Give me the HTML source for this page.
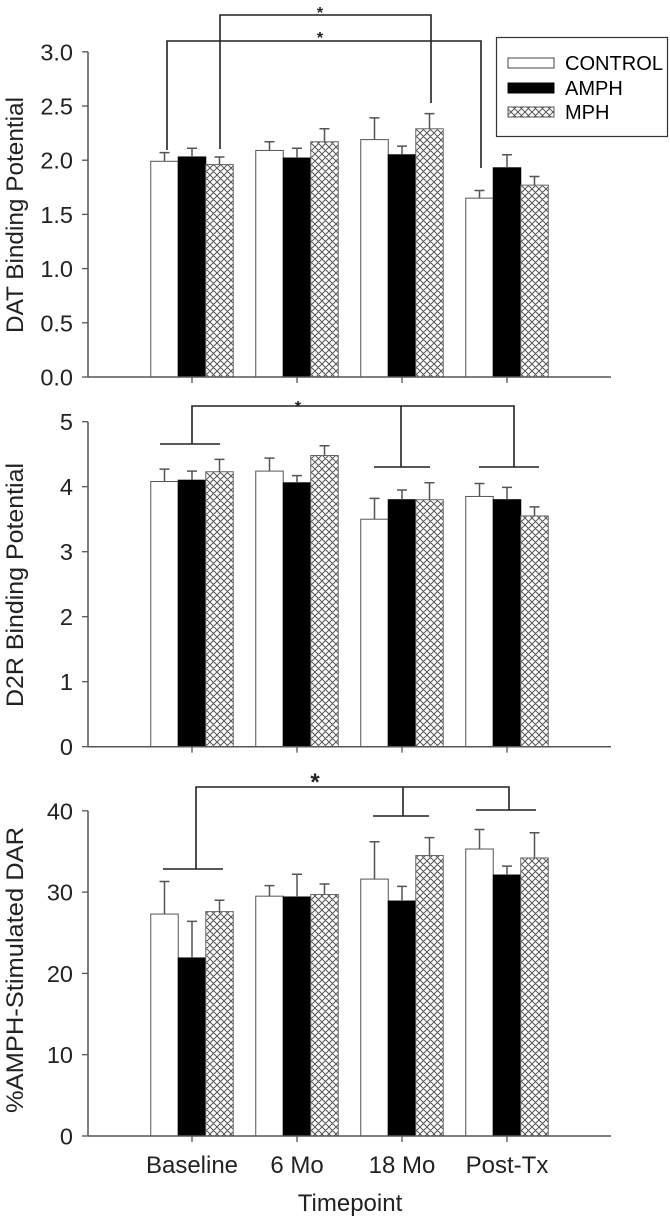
<!DOCTYPE html>
<html><head><meta charset="utf-8"><style>
html,body{margin:0;padding:0;background:#fff;}
svg{display:block;font-family:"Liberation Sans",Arial,sans-serif;}
</style></head><body>
<svg id="chart" width="670" height="1217" viewBox="0 0 670 1217">
<defs>
<pattern id="hatch" width="7" height="7" patternUnits="userSpaceOnUse">
<rect width="7" height="7" fill="#fff"/>
<path d="M0,0 L7,7 M7,0 L0,7 M-1,6 L1,8 M6,-1 L8,1 M-1,1 L1,-1 M6,8 L8,6" stroke="#555" stroke-width="1"/>
</pattern>
</defs>
<g id="legend">
<rect x="496.5" y="37.5" width="171" height="99" fill="#fff" stroke="#333" stroke-width="1.2"/>
<rect x="508" y="58" width="46" height="10" fill="#fff" stroke="#444"/>
<text x="565" y="70" font-size="20" textLength="98" lengthAdjust="spacingAndGlyphs">CONTROL</text>
<rect x="508" y="83" width="46" height="10" fill="#000" stroke="#000"/>
<text x="565" y="95" font-size="20">AMPH</text>
<rect x="508" y="107" width="46" height="10" fill="url(#hatch)" stroke="#555"/>
<text x="565" y="119" font-size="20">MPH</text>
</g>
</svg>
<script>
const categories = ["Baseline", "6 Mo", "18 Mo", "Post-Tx"];
const seriesNames = ["CONTROL", "AMPH", "MPH"];
// DAT panel
const datControl = [1.99, 2.09, 2.19, 1.65];
const datAmph = [2.03, 2.02, 2.05, 1.93];
const datMph = [1.96, 2.17, 2.29, 1.77];
const datControlErr = [0.08, 0.08, 0.20, 0.07];
const datAmphErr = [0.08, 0.09, 0.08, 0.12];
const datMphErr = [0.07, 0.12, 0.14, 0.08];
const datTicks = ["0.0", "0.5", "1.0", "1.5", "2.0", "2.5", "3.0"];
// D2R panel
const d2rControl = [4.08, 4.24, 3.50, 3.85];
const d2rAmph = [4.10, 4.06, 3.80, 3.80];
const d2rMph = [4.23, 4.48, 3.80, 3.55];
const d2rControlErr = [0.19, 0.20, 0.32, 0.20];
const d2rAmphErr = [0.14, 0.11, 0.15, 0.19];
const d2rMphErr = [0.19, 0.15, 0.26, 0.14];
const d2rTicks = ["0", "1", "2", "3", "4", "5"];
// DAR panel
const darControl = [27.3, 29.5, 31.6, 35.3];
const darAmph = [21.9, 29.4, 28.9, 32.1];
const darMph = [27.6, 29.7, 34.5, 34.2];
const darControlErr = [4.0, 1.3, 4.6, 2.4];
const darAmphErr = [4.5, 2.8, 1.8, 1.1];
const darMphErr = [1.4, 1.3, 2.2, 3.1];
const darTicks = ["0", "10", "20", "30", "40"];

const NS = "http://www.w3.org/2000/svg";
const svg = document.getElementById("chart");
function mk(tag, attrs, parent) {
  const e = document.createElementNS(NS, tag);
  for (const k in attrs) e.setAttribute(k, attrs[k]);
  (parent || svg).appendChild(e);
  return e;
}
const AX = 88, AXEND = 611;
function xCenter(i) { return 192 + i * 105; }
const barW = 27.5;
const fills = ["#fff", "#000", "url(#hatch)"];
const strokes = ["#555", "#000", "#666"];

function panel(key, y0, pxPerUnit, maxV, tickLabels, tickStep, series, errs, title, titleCenter, titleLen) {
  const g = mk("g", {});
  
  
  const yS = v => y0 - v * pxPerUnit;
  series.forEach((vals, s) => {
    vals.forEach((v, i) => {
      const x = xCenter(i) - 41.25 + s * barW;
      const r = mk("rect", { x: x, y: yS(v), width: barW, height: y0 - yS(v), fill: fills[s], stroke: strokes[s], "stroke-width": 1 }, g);
      
      
      const top = yS(v + errs[s][i]);
      const cx = x + barW / 2;
      const eb = mk("path", { d: `M${cx},${yS(v)} L${cx},${top} M${cx - 5},${top} L${cx + 5},${top}`, stroke: "#555", "stroke-width": 1.5, fill: "none" }, g);
      
      
    });
  });
  const ya = mk("line", { x1: AX, y1: yS(maxV), x2: AX, y2: y0, stroke: "#555", "stroke-width": 1.5 }, g);
  
  
  const xa = mk("line", { x1: AX, y1: y0, x2: AXEND, y2: y0, stroke: "#555", "stroke-width": 1.5 }, g);
  
  
  tickLabels.forEach((t, k) => {
    const y = yS(k * tickStep);
    mk("line", { x1: AX - 6, y1: y, x2: AX, y2: y, stroke: "#555", "stroke-width": 1.3 }, g);
    const tx = mk("text", { x: 73, y: y + 8.5, "font-size": 23.5, "text-anchor": "end", fill: "#222" }, g);
    tx.textContent = t;
    
    
  });
  categories.forEach((c, i) => {
    mk("line", { x1: xCenter(i), y1: y0, x2: xCenter(i), y2: y0 + 6, stroke: "#555", "stroke-width": 1.3 }, g);
  });
  const tt = mk("text", { x: 0, y: 0, "font-size": 24, "text-anchor": "middle", fill: "#222", textLength: titleLen, lengthAdjust: "spacingAndGlyphs", transform: `translate(23,${titleCenter}) rotate(-90)` }, g);
  tt.textContent = title;
  
  
}

panel("dat", 377, 108.4, 3.0, datTicks, 0.5, [datControl, datAmph, datMph], [datControlErr, datAmphErr, datMphErr], "DAT Binding Potential", 215, 236);
panel("d2r", 746.7, 65, 5, d2rTicks, 1, [d2rControl, d2rAmph, d2rMph], [d2rControlErr, d2rAmphErr, d2rMphErr], "D2R Binding Potential", 585, 244);
panel("dar", 1136, 8.13, 40, darTicks, 10, [darControl, darAmph, darMph], [darControlErr, darAmphErr, darMphErr], "%AMPH-Stimulated DAR", 970, 286);

function br(d, name) {
  const p = mk("path", { d: d, stroke: "#222", "stroke-width": 1.6, fill: "none" });
  
  
}
function star(x, y, size, name) {
  const t = mk("text", { x: x, y: y, "font-size": size, "text-anchor": "middle", fill: "#222", "font-weight": "bold" });
  t.textContent = "*";
  
  
}
br("M220,149 L220,15 L431,15 L431,103", "dat-bracket-baseline-vs-18mo");
br("M167,150 L167,41 L481,41 L481,168", "dat-bracket-baseline-vs-posttx");
star(320, 18, 16, "dat-significance-star-1");
star(320, 43, 16, "dat-significance-star-2");
br("M192,444 L192,406 L514,406 L514,467 M401,406 L401,467 M160,444 L220,444 M374,467 L430,467 M479,467 L539,467", "d2r-bracket");
star(298, 412, 16, "d2r-significance-star");
br("M196,869 L196,787 L509,787 L509,810 M403,787 L403,816 M163,869 L223,869 M373,816 L429,816 M476,810 L536,810", "dar-bracket");
star(315, 790, 24, "dar-significance-star");

categories.forEach((c, i) => {
  const t = mk("text", { x: xCenter(i), y: 1173, "font-size": 24, "text-anchor": "middle", fill: "#222" });
  t.textContent = c;
  
  
});
const xt = mk("text", { x: 350, y: 1211, "font-size": 24, "text-anchor": "middle", fill: "#222" });
xt.textContent = "Timepoint";


svg.appendChild(document.getElementById("legend"));
</script>
</body></html>
